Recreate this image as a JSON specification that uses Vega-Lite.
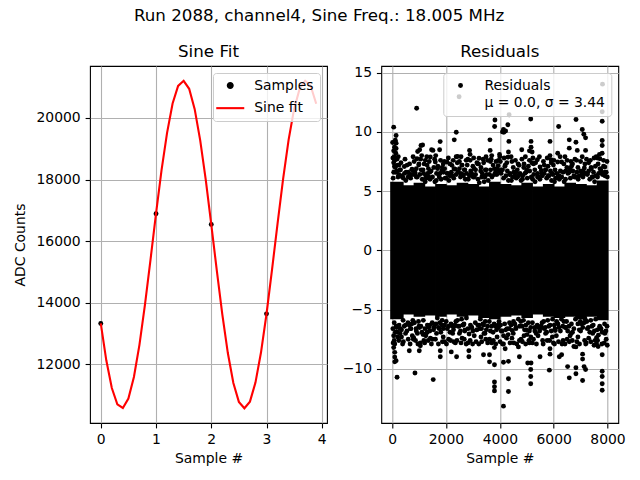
{
  "$schema": "https://vega.github.io/schema/vega-lite/v6.json",
  "background": "white",
  "padding": {"left": 12, "top": 8, "right": 5, "bottom": 5},
  "title": {"text": "Run 2088, channel4, Sine Freq.: 18.005 MHz", "anchor": "middle", "baseline": "alphabetic", "offset": 5},
  "config": {
    "view": {"stroke": "black", "strokeWidth": 1.1},
    "title": {"font": "DejaVu Sans", "fontSize": 16.7, "fontWeight": "normal", "color": "black"},
    "axis": {"labelFont": "DejaVu Sans", "labelFontSize": 13.9, "labelColor": "black", "titleFont": "DejaVu Sans", "titleFontSize": 13.9, "titleFontWeight": "normal", "titleColor": "black", "grid": true, "gridColor": "#b0b0b0", "gridWidth": 1.1, "tickColor": "black", "tickWidth": 1.1, "tickSize": 4.9, "labelPadding": 4.9, "domain": false, "labelFlush": false, "labelOverlap": false, "titlePadding": 5},
    "axisY": {"titlePadding": 9},
    "legend": {"labelFont": "DejaVu Sans", "labelFontSize": 13.9, "labelColor": "black", "fillColor": "rgba(255,255,255,0.8)", "strokeColor": "#cccccc", "cornerRadius": 3, "padding": 5.6, "orient": "top-right", "offset": 7, "symbolSize": 303, "symbolOffset": 4.7, "labelOffset": 17, "rowPadding": 7.6}
  },
  "spacing": 54.3,
  "bounds": "flush",
  "resolve": {"scale": {"color": "independent"}, "legend": {"color": "independent"}},
  "datasets": {
    "samples": [
      {"x": 0, "y": 13325}, {"x": 1, "y": 16890}, {"x": 2, "y": 16545}, {"x": 3, "y": 13640}
    ],
    "fit": [
      {"x": 0.0, "y": 13330}, {"x": 0.1, "y": 12132}, {"x": 0.2, "y": 11232}, {"x": 0.3, "y": 10703},
      {"x": 0.4, "y": 10586}, {"x": 0.5, "y": 10890}, {"x": 0.6, "y": 11592}, {"x": 0.7, "y": 12635},
      {"x": 0.8, "y": 13938}, {"x": 0.9, "y": 15395}, {"x": 1.0, "y": 16894}, {"x": 1.1, "y": 18309},
      {"x": 1.2, "y": 19517}, {"x": 1.3, "y": 20470}, {"x": 1.4, "y": 21041}, {"x": 1.5, "y": 21206},
      {"x": 1.6, "y": 20947}, {"x": 1.7, "y": 20286}, {"x": 1.8, "y": 19274}, {"x": 1.9, "y": 18001},
      {"x": 2.0, "y": 16548}, {"x": 2.1, "y": 15050}, {"x": 2.2, "y": 13620}, {"x": 2.3, "y": 12368},
      {"x": 2.4, "y": 11397}, {"x": 2.5, "y": 10783}, {"x": 2.6, "y": 10575}, {"x": 2.7, "y": 10790},
      {"x": 2.8, "y": 11409}, {"x": 2.9, "y": 12385}, {"x": 3.0, "y": 13636}, {"x": 3.1, "y": 15077},
      {"x": 3.2, "y": 16572}, {"x": 3.3, "y": 18017}, {"x": 3.4, "y": 19289}, {"x": 3.5, "y": 20294},
      {"x": 3.6, "y": 20949}, {"x": 3.7, "y": 21207}, {"x": 3.8, "y": 21039}, {"x": 3.9, "y": 20460}
    ],
    "core": [
      {"x0": -70, "x1": 430, "lo": -5.8, "hi": 5.8},
      {"x0": 400, "x1": 830, "lo": -5.4, "hi": 5.5},
      {"x0": 800, "x1": 1230, "lo": -5.6, "hi": 5.7},
      {"x0": 1200, "x1": 1630, "lo": -5.5, "hi": 5.4},
      {"x0": 1600, "x1": 2030, "lo": -5.6, "hi": 5.6},
      {"x0": 2000, "x1": 2430, "lo": -5.4, "hi": 5.5},
      {"x0": 2400, "x1": 2830, "lo": -5.6, "hi": 5.7},
      {"x0": 2800, "x1": 3230, "lo": -5.5, "hi": 5.6},
      {"x0": 3200, "x1": 3630, "lo": -5.7, "hi": 5.4},
      {"x0": 3600, "x1": 4030, "lo": -5.8, "hi": 5.8},
      {"x0": 4000, "x1": 4430, "lo": -5.6, "hi": 5.6},
      {"x0": 4400, "x1": 4830, "lo": -5.5, "hi": 5.5},
      {"x0": 4800, "x1": 5230, "lo": -5.7, "hi": 5.7},
      {"x0": 5200, "x1": 5630, "lo": -5.4, "hi": 5.4},
      {"x0": 5600, "x1": 6030, "lo": -5.6, "hi": 5.6},
      {"x0": 6000, "x1": 6430, "lo": -5.7, "hi": 5.4},
      {"x0": 6400, "x1": 6830, "lo": -5.6, "hi": 5.7},
      {"x0": 6800, "x1": 7230, "lo": -5.8, "hi": 5.6},
      {"x0": 7200, "x1": 7630, "lo": -5.6, "hi": 5.5},
      {"x0": 7600, "x1": 8040, "lo": -5.9, "hi": 5.9}
    ],
    "res": [
      {"x":60,"y":10.4},{"x":150,"y":9.7},{"x":120,"y":9.3},{"x":150,"y":9.05},{"x":90,"y":8.7},{"x":150,"y":8.6},{"x":60,"y":8.4},{"x":140,"y":8.2},{"x":80,"y":7.9},{"x":180,"y":7.7},{"x":60,"y":7.4},{"x":200,"y":7.2},{"x":120,"y":7.0},{"x":300,"y":6.8},{"x":60,"y":6.6},{"x":250,"y":6.4},{"x":380,"y":6.2},{"x":30,"y":7.8},{"x":20,"y":9.1},
      {"x":455,"y":7.08},{"x":520,"y":6.6},{"x":740,"y":6.8},{"x":700,"y":6.4},{"x":600,"y":6.2},{"x":650,"y":7.3},
      {"x":912,"y":12.0},{"x":1074,"y":8.85},{"x":1025,"y":8.5},{"x":950,"y":8.35},{"x":925,"y":7.74},{"x":1100,"y":8.0},{"x":1000,"y":7.3},{"x":1150,"y":6.8},{"x":850,"y":6.5},{"x":1134,"y":8.9},{"x":900,"y":6.2},
      {"x":1235,"y":7.6},{"x":1467,"y":8.49},{"x":1420,"y":7.88},{"x":1518,"y":8.44},{"x":1300,"y":7.2},{"x":1550,"y":7.0},{"x":1400,"y":6.6},{"x":1250,"y":6.3},{"x":1350,"y":6.9},
      {"x":1786,"y":9.18},{"x":1765,"y":8.49},{"x":1605,"y":7.46},{"x":1700,"y":7.1},{"x":1900,"y":7.3},{"x":1850,"y":6.7},{"x":1650,"y":6.5},{"x":1950,"y":6.9},{"x":1750,"y":6.2},
      {"x":2309,"y":9.33},{"x":2383,"y":9.97},{"x":2037,"y":7.46},{"x":2222,"y":7.18},{"x":2300,"y":6.9},{"x":2050,"y":6.5},{"x":2380,"y":7.9},{"x":2150,"y":6.3},
      {"x":2489,"y":12.97},{"x":2432,"y":7.93},{"x":2500,"y":7.5},{"x":2600,"y":7.2},{"x":2700,"y":6.8},{"x":2550,"y":6.5},{"x":2750,"y":7.6},{"x":2650,"y":6.3},
      {"x":2877,"y":8.44},{"x":2896,"y":8.1},{"x":2900,"y":7.6},{"x":3000,"y":7.1},{"x":3100,"y":6.8},{"x":3150,"y":7.4},{"x":2950,"y":6.5},{"x":3050,"y":6.2},
      {"x":3228,"y":7.78},{"x":3300,"y":7.0},{"x":3400,"y":7.4},{"x":3500,"y":6.8},{"x":3350,"y":6.5},{"x":3550,"y":7.6},{"x":3450,"y":6.2},
      {"x":3634,"y":9.33},{"x":3642,"y":8.44},{"x":3808,"y":10.45},{"x":3820,"y":11.0},{"x":3700,"y":8.0},{"x":3650,"y":7.5},{"x":3750,"y":7.2},{"x":3900,"y":6.9},{"x":3950,"y":7.6},{"x":3800,"y":6.4},
      {"x":4100,"y":10.0},{"x":4215,"y":10.08},{"x":4300,"y":10.6},{"x":4136,"y":10.2},{"x":4150,"y":9.97},{"x":4337,"y":9.2},{"x":4321,"y":8.3},{"x":4296,"y":7.87},{"x":4200,"y":7.2},{"x":4050,"y":6.8},{"x":4346,"y":11.45},{"x":4000,"y":7.9},{"x":4380,"y":6.5},
      {"x":4815,"y":8.5},{"x":4716,"y":7.18},{"x":4500,"y":7.0},{"x":4600,"y":6.6},{"x":4450,"y":7.5},{"x":4750,"y":6.5},{"x":4650,"y":6.2},
      {"x":5148,"y":11.09},{"x":5160,"y":9.2},{"x":5160,"y":8.7},{"x":5100,"y":8.4},{"x":5200,"y":8.3},{"x":4900,"y":7.3},{"x":5000,"y":6.8},{"x":5100,"y":7.6},{"x":4850,"y":6.3},
      {"x":5395,"y":7.65},{"x":5494,"y":7.04},{"x":5300,"y":6.8},{"x":5550,"y":6.5},{"x":5250,"y":7.3},{"x":5400,"y":6.2},
      {"x":5864,"y":9.2},{"x":5864,"y":8.0},{"x":5900,"y":7.65},{"x":5910,"y":7.4},{"x":5700,"y":6.8},{"x":5650,"y":7.2},{"x":5950,"y":6.5},{"x":5800,"y":6.3},
      {"x":6185,"y":10.45},{"x":6150,"y":8.2},{"x":6150,"y":7.46},{"x":6296,"y":7.46},{"x":6050,"y":6.8},{"x":6350,"y":6.6},{"x":6200,"y":6.3},
      {"x":6580,"y":9.33},{"x":6580,"y":8.63},{"x":6605,"y":6.9},{"x":6700,"y":7.3},{"x":6450,"y":6.7},{"x":6500,"y":7.6},{"x":6750,"y":6.3},
      {"x":6830,"y":11.05},{"x":7062,"y":10.2},{"x":7120,"y":9.8},{"x":7185,"y":9.5},{"x":6827,"y":9.13},{"x":6877,"y":8.44},{"x":7185,"y":8.44},{"x":7000,"y":7.5},{"x":6900,"y":7.0},{"x":7100,"y":6.7},{"x":6950,"y":6.3},
      {"x":7300,"y":7.4},{"x":7400,"y":6.9},{"x":7500,"y":7.8},{"x":7250,"y":6.5},{"x":7550,"y":7.1},{"x":7450,"y":6.2},
      {"x":7813,"y":14.03},{"x":7802,"y":11.7},{"x":7802,"y":10.9},{"x":7802,"y":9.27},{"x":7802,"y":8.85},{"x":7716,"y":7.74},{"x":7901,"y":7.04},{"x":7800,"y":8.2},{"x":7650,"y":7.3},{"x":7950,"y":6.6},{"x":7850,"y":7.6},{"x":7750,"y":6.8},{"x":7900,"y":6.3},
      {"x":185,"y":-10.7},{"x":100,"y":-9.4},{"x":100,"y":-9.0},{"x":100,"y":-8.6},{"x":150,"y":-9.3},{"x":60,"y":-8.2},{"x":100,"y":-7.9},{"x":80,"y":-7.6},{"x":60,"y":-7.2},{"x":200,"y":-6.9},{"x":300,"y":-6.6},{"x":150,"y":-6.4},{"x":350,"y":-7.3},
      {"x":640,"y":-8.46},{"x":500,"y":-7.0},{"x":700,"y":-6.6},{"x":600,"y":-7.5},{"x":450,"y":-6.4},{"x":750,"y":-7.2},
      {"x":850,"y":-10.34},{"x":1010,"y":-8.46},{"x":1050,"y":-7.8},{"x":1050,"y":-8.05},{"x":802,"y":-7.36},{"x":900,"y":-6.8},{"x":1150,"y":-7.1},{"x":1000,"y":-6.4},
      {"x":1528,"y":-10.9},{"x":1420,"y":-7.4},{"x":1500,"y":-7.5},{"x":1300,"y":-6.9},{"x":1250,"y":-7.2},{"x":1550,"y":-6.5},{"x":1400,"y":-6.3},
      {"x":1790,"y":-8.47},{"x":1790,"y":-8.97},{"x":1650,"y":-7.0},{"x":1900,"y":-7.3},{"x":1750,"y":-6.6},{"x":1950,"y":-7.7},{"x":1850,"y":-6.3},
      {"x":2198,"y":-8.56},{"x":2395,"y":-8.97},{"x":2100,"y":-7.5},{"x":2250,"y":-7.0},{"x":2050,"y":-6.6},{"x":2350,"y":-7.8},{"x":2300,"y":-6.4},
      {"x":2600,"y":-7.4},{"x":2700,"y":-6.8},{"x":2500,"y":-7.0},{"x":2750,"y":-7.9},{"x":2450,"y":-6.4},{"x":2650,"y":-6.3},
      {"x":2852,"y":-8.47},{"x":2852,"y":-8.97},{"x":2900,"y":-7.6},{"x":3050,"y":-7.2},{"x":3150,"y":-6.7},{"x":2950,"y":-6.5},
      {"x":3395,"y":-8.8},{"x":3300,"y":-7.3},{"x":3450,"y":-7.0},{"x":3550,"y":-7.8},{"x":3250,"y":-6.6},{"x":3400,"y":-6.3},
      {"x":3617,"y":-8.8},{"x":3617,"y":-9.4},{"x":3802,"y":-9.64},{"x":3802,"y":-11.1},{"x":3802,"y":-11.5},{"x":3802,"y":-11.85},{"x":3700,"y":-7.8},{"x":3900,"y":-7.3},{"x":3650,"y":-6.8},{"x":3950,"y":-6.5},{"x":3800,"y":-8.2},
      {"x":4136,"y":-13.14},{"x":4321,"y":-11.9},{"x":4321,"y":-10.83},{"x":4136,"y":-9.44},{"x":4321,"y":-9.36},{"x":4136,"y":-7.9},{"x":4250,"y":-7.4},{"x":4050,"y":-6.8},{"x":4350,"y":-6.6},{"x":4200,"y":-8.3},
      {"x":4728,"y":-8.97},{"x":4691,"y":-8.14},{"x":4728,"y":-7.6},{"x":4500,"y":-7.0},{"x":4600,"y":-6.6},{"x":4450,"y":-7.4},
      {"x":5037,"y":-9.5},{"x":5160,"y":-9.5},{"x":5148,"y":-10.05},{"x":5148,"y":-10.64},{"x":5148,"y":-11.25},{"x":4900,"y":-7.2},{"x":5000,"y":-6.7},{"x":5100,"y":-7.8},{"x":5150,"y":-7.3},
      {"x":5494,"y":-8.97},{"x":5420,"y":-7.2},{"x":5300,"y":-6.8},{"x":5550,"y":-6.5},{"x":5250,"y":-7.5},
      {"x":5840,"y":-10.1},{"x":5864,"y":-8.75},{"x":5864,"y":-8.3},{"x":5850,"y":-7.6},{"x":5700,"y":-7.0},{"x":5650,"y":-6.6},{"x":5950,"y":-7.3},
      {"x":6210,"y":-8.97},{"x":6296,"y":-8.8},{"x":6100,"y":-7.2},{"x":6350,"y":-7.6},{"x":6050,"y":-6.6},{"x":6250,"y":-6.8},
      {"x":6518,"y":-9.8},{"x":6580,"y":-10.75},{"x":6500,"y":-7.5},{"x":6650,"y":-7.0},{"x":6750,"y":-8.1},{"x":6450,"y":-6.5},
      {"x":6827,"y":-9.9},{"x":6827,"y":-10.4},{"x":7074,"y":-10.97},{"x":7130,"y":-9.8},{"x":7185,"y":-10.05},{"x":7074,"y":-9.17},{"x":7074,"y":-8.75},{"x":6827,"y":-8.14},{"x":6900,"y":-7.3},{"x":7000,"y":-6.8},{"x":7150,"y":-7.6},
      {"x":7300,"y":-7.4},{"x":7450,"y":-7.0},{"x":7593,"y":-7.9},{"x":7593,"y":-7.36},{"x":7250,"y":-6.6},{"x":7500,"y":-8.0},
      {"x":7802,"y":-10.2},{"x":7802,"y":-10.64},{"x":7802,"y":-11.25},{"x":7802,"y":-11.8},{"x":7802,"y":-8.8},{"x":7790,"y":-7.9},{"x":7900,"y":-7.0},{"x":7700,"y":-6.6},{"x":7950,"y":-7.5},{"x":7650,"y":-8.1},
      {"x":40,"y":6.1},{"x":130,"y":6.6},{"x":220,"y":6.2},{"x":310,"y":6.8},{"x":370,"y":6.3},{"x":90,"y":7.1},{"x":260,"y":7.2},{"x":180,"y":6.7},
      {"x":420,"y":6.1},{"x":510,"y":5.9},{"x":600,"y":6.6},{"x":690,"y":6.1},{"x":780,"y":6.4},{"x":460,"y":6.5},{"x":640,"y":6.3},{"x":740,"y":6.85},
      {"x":850,"y":6.6},{"x":940,"y":6.2},{"x":1030,"y":6.4},{"x":1120,"y":6.0},{"x":900,"y":6.9},{"x":1080,"y":6.8},{"x":990,"y":7.2},{"x":1170,"y":6.5},
      {"x":1230,"y":5.8},{"x":1320,"y":6.5},{"x":1410,"y":6.0},{"x":1500,"y":6.2},{"x":1590,"y":5.8},{"x":1360,"y":6.2},{"x":1450,"y":6.7},{"x":1270,"y":6.1},
      {"x":1640,"y":5.9},{"x":1730,"y":6.4},{"x":1820,"y":6.0},{"x":1910,"y":6.6},{"x":1970,"y":6.1},{"x":1690,"y":6.9},{"x":1860,"y":7.0},{"x":1780,"y":6.5},
      {"x":2020,"y":6.1},{"x":2110,"y":5.9},{"x":2200,"y":6.6},{"x":2290,"y":6.1},{"x":2380,"y":6.4},{"x":2060,"y":6.5},{"x":2240,"y":6.3},{"x":2340,"y":6.85},
      {"x":2450,"y":6.6},{"x":2540,"y":6.2},{"x":2630,"y":6.4},{"x":2720,"y":6.0},{"x":2500,"y":6.9},{"x":2680,"y":6.8},{"x":2590,"y":7.2},{"x":2770,"y":6.5},
      {"x":2830,"y":6.0},{"x":2920,"y":6.7},{"x":3010,"y":6.2},{"x":3100,"y":6.4},{"x":3190,"y":6.0},{"x":2960,"y":6.4},{"x":3050,"y":6.9},{"x":2870,"y":6.3},
      {"x":3240,"y":5.7},{"x":3330,"y":6.2},{"x":3420,"y":5.8},{"x":3510,"y":6.4},{"x":3570,"y":5.9},{"x":3290,"y":6.7},{"x":3460,"y":6.8},{"x":3380,"y":6.3},
      {"x":3620,"y":6.4},{"x":3710,"y":6.2},{"x":3800,"y":6.9},{"x":3890,"y":6.4},{"x":3980,"y":6.7},{"x":3660,"y":6.8},{"x":3840,"y":6.6},{"x":3940,"y":7.15},
      {"x":4050,"y":6.5},{"x":4140,"y":6.1},{"x":4230,"y":6.3},{"x":4320,"y":5.9},{"x":4100,"y":6.8},{"x":4280,"y":6.7},{"x":4190,"y":7.1},{"x":4370,"y":6.4},
      {"x":4430,"y":5.9},{"x":4520,"y":6.6},{"x":4610,"y":6.1},{"x":4700,"y":6.3},{"x":4790,"y":5.9},{"x":4560,"y":6.3},{"x":4650,"y":6.8},{"x":4470,"y":6.2},
      {"x":4840,"y":6.0},{"x":4930,"y":6.5},{"x":5020,"y":6.1},{"x":5110,"y":6.7},{"x":5170,"y":6.2},{"x":4890,"y":7.0},{"x":5060,"y":7.1},{"x":4980,"y":6.6},
      {"x":5220,"y":6.0},{"x":5310,"y":5.8},{"x":5400,"y":6.5},{"x":5490,"y":6.0},{"x":5580,"y":6.3},{"x":5260,"y":6.4},{"x":5440,"y":6.2},{"x":5540,"y":6.75},
      {"x":5650,"y":6.5},{"x":5740,"y":6.1},{"x":5830,"y":6.3},{"x":5920,"y":5.9},{"x":5700,"y":6.8},{"x":5880,"y":6.7},{"x":5790,"y":7.1},{"x":5970,"y":6.4},
      {"x":6030,"y":5.8},{"x":6120,"y":6.5},{"x":6210,"y":6.0},{"x":6300,"y":6.2},{"x":6390,"y":5.8},{"x":6160,"y":6.2},{"x":6250,"y":6.7},{"x":6070,"y":6.1},
      {"x":6440,"y":6.0},{"x":6530,"y":6.5},{"x":6620,"y":6.1},{"x":6710,"y":6.7},{"x":6770,"y":6.2},{"x":6490,"y":7.0},{"x":6660,"y":7.1},{"x":6580,"y":6.6},
      {"x":6820,"y":6.2},{"x":6910,"y":6.0},{"x":7000,"y":6.7},{"x":7090,"y":6.2},{"x":7180,"y":6.5},{"x":6860,"y":6.6},{"x":7040,"y":6.4},{"x":7140,"y":6.95},
      {"x":7250,"y":6.4},{"x":7340,"y":6.0},{"x":7430,"y":6.2},{"x":7520,"y":5.8},{"x":7300,"y":6.7},{"x":7480,"y":6.6},{"x":7390,"y":7.0},{"x":7570,"y":6.3},
      {"x":7630,"y":6.2},{"x":7720,"y":6.9},{"x":7810,"y":6.4},{"x":7900,"y":6.6},{"x":7990,"y":6.2},{"x":7760,"y":6.6},{"x":7850,"y":7.1},{"x":7670,"y":6.5},
      {"x":350,"y":-6.7},{"x":260,"y":-6.3},{"x":170,"y":-6.5},{"x":80,"y":-6.1},{"x":300,"y":-7.0},{"x":120,"y":-6.9},{"x":210,"y":-7.3},{"x":30,"y":-6.6},
      {"x":770,"y":-5.9},{"x":680,"y":-6.6},{"x":590,"y":-6.1},{"x":500,"y":-6.3},{"x":410,"y":-5.9},{"x":640,"y":-6.3},{"x":550,"y":-6.8},{"x":730,"y":-6.2},
      {"x":1160,"y":-5.9},{"x":1070,"y":-6.4},{"x":980,"y":-6.0},{"x":890,"y":-6.6},{"x":830,"y":-6.1},{"x":1110,"y":-6.9},{"x":940,"y":-7.0},{"x":1020,"y":-6.5},
      {"x":1580,"y":-6.3},{"x":1490,"y":-6.1},{"x":1400,"y":-6.8},{"x":1310,"y":-6.3},{"x":1220,"y":-6.6},{"x":1540,"y":-6.7},{"x":1360,"y":-6.5},{"x":1260,"y":-7.05},
      {"x":1950,"y":-6.3},{"x":1860,"y":-5.9},{"x":1770,"y":-6.1},{"x":1680,"y":-5.7},{"x":1900,"y":-6.6},{"x":1720,"y":-6.5},{"x":1810,"y":-6.9},{"x":1630,"y":-6.2},
      {"x":2370,"y":-6.0},{"x":2280,"y":-6.7},{"x":2190,"y":-6.2},{"x":2100,"y":-6.4},{"x":2010,"y":-6.0},{"x":2240,"y":-6.4},{"x":2150,"y":-6.9},{"x":2330,"y":-6.3},
      {"x":2760,"y":-5.7},{"x":2670,"y":-6.2},{"x":2580,"y":-5.8},{"x":2490,"y":-6.4},{"x":2430,"y":-5.9},{"x":2710,"y":-6.7},{"x":2540,"y":-6.8},{"x":2620,"y":-6.3},
      {"x":3180,"y":-6.3},{"x":3090,"y":-6.1},{"x":3000,"y":-6.8},{"x":2910,"y":-6.3},{"x":2820,"y":-6.6},{"x":3140,"y":-6.7},{"x":2960,"y":-6.5},{"x":2860,"y":-7.05},
      {"x":3550,"y":-6.4},{"x":3460,"y":-6.0},{"x":3370,"y":-6.2},{"x":3280,"y":-5.8},{"x":3500,"y":-6.7},{"x":3320,"y":-6.6},{"x":3410,"y":-7.0},{"x":3230,"y":-6.3},
      {"x":3970,"y":-6.0},{"x":3880,"y":-6.7},{"x":3790,"y":-6.2},{"x":3700,"y":-6.4},{"x":3610,"y":-6.0},{"x":3840,"y":-6.4},{"x":3750,"y":-6.9},{"x":3930,"y":-6.3},
      {"x":4360,"y":-6.1},{"x":4270,"y":-6.6},{"x":4180,"y":-6.2},{"x":4090,"y":-6.8},{"x":4030,"y":-6.3},{"x":4310,"y":-7.1},{"x":4140,"y":-7.2},{"x":4220,"y":-6.7},
      {"x":4780,"y":-6.0},{"x":4690,"y":-5.8},{"x":4600,"y":-6.5},{"x":4510,"y":-6.0},{"x":4420,"y":-6.3},{"x":4740,"y":-6.4},{"x":4560,"y":-6.2},{"x":4460,"y":-6.75},
      {"x":5150,"y":-6.5},{"x":5060,"y":-6.1},{"x":4970,"y":-6.3},{"x":4880,"y":-5.9},{"x":5100,"y":-6.8},{"x":4920,"y":-6.7},{"x":5010,"y":-7.1},{"x":4830,"y":-6.4},
      {"x":5570,"y":-6.1},{"x":5480,"y":-6.8},{"x":5390,"y":-6.3},{"x":5300,"y":-6.5},{"x":5210,"y":-6.1},{"x":5440,"y":-6.5},{"x":5350,"y":-7.0},{"x":5530,"y":-6.4},
      {"x":5960,"y":-5.8},{"x":5870,"y":-6.3},{"x":5780,"y":-5.9},{"x":5690,"y":-6.5},{"x":5630,"y":-6.0},{"x":5910,"y":-6.8},{"x":5740,"y":-6.9},{"x":5820,"y":-6.4},
      {"x":6380,"y":-6.0},{"x":6290,"y":-5.8},{"x":6200,"y":-6.5},{"x":6110,"y":-6.0},{"x":6020,"y":-6.3},{"x":6340,"y":-6.4},{"x":6160,"y":-6.2},{"x":6060,"y":-6.75},
      {"x":6750,"y":-6.6},{"x":6660,"y":-6.2},{"x":6570,"y":-6.4},{"x":6480,"y":-6.0},{"x":6700,"y":-6.9},{"x":6520,"y":-6.8},{"x":6610,"y":-7.2},{"x":6430,"y":-6.5},
      {"x":7170,"y":-5.8},{"x":7080,"y":-6.5},{"x":6990,"y":-6.0},{"x":6900,"y":-6.2},{"x":6810,"y":-5.8},{"x":7040,"y":-6.2},{"x":6950,"y":-6.7},{"x":7130,"y":-6.1},
      {"x":7560,"y":-5.8},{"x":7470,"y":-6.3},{"x":7380,"y":-5.9},{"x":7290,"y":-6.5},{"x":7230,"y":-6.0},{"x":7510,"y":-6.8},{"x":7340,"y":-6.9},{"x":7420,"y":-6.4},
      {"x":7980,"y":-6.4},{"x":7890,"y":-6.2},{"x":7800,"y":-6.9},{"x":7710,"y":-6.4},{"x":7620,"y":-6.7},{"x":7940,"y":-6.8},{"x":7760,"y":-6.6},{"x":7660,"y":-7.15},
      {"x":100,"y":7.6},{"x":230,"y":7.9},{"x":330,"y":7.4},{"x":480,"y":7.7},{"x":560,"y":7.2},{"x":780,"y":7.9},{"x":820,"y":7.5},{"x":1060,"y":7.7},{"x":1190,"y":7.3},{"x":1290,"y":7.9},{"x":1380,"y":7.5},{"x":1580,"y":7.7},
      {"x":1620,"y":8.0},{"x":1800,"y":7.6},{"x":1940,"y":7.5},{"x":2090,"y":7.8},{"x":2150,"y":7.3},{"x":2270,"y":7.6},{"x":2420,"y":7.4},{"x":2560,"y":7.9},{"x":2790,"y":7.2},{"x":2810,"y":7.7},{"x":3030,"y":7.8},{"x":3180,"y":7.3},
      {"x":3210,"y":7.3},{"x":3380,"y":7.7},{"x":3490,"y":7.9},{"x":3680,"y":7.7},{"x":3860,"y":7.5},{"x":3990,"y":8.1},{"x":4020,"y":7.5},{"x":4160,"y":7.8},{"x":4260,"y":7.4},{"x":4420,"y":7.9},{"x":4580,"y":7.6},{"x":4680,"y":7.3},
      {"x":4820,"y":7.7},{"x":4950,"y":7.9},{"x":5190,"y":7.4},{"x":5230,"y":7.8},{"x":5330,"y":7.4},{"x":5470,"y":7.9},{"x":5620,"y":7.5},{"x":5760,"y":7.8},{"x":5990,"y":7.2},{"x":6010,"y":7.6},{"x":6240,"y":7.9},{"x":6380,"y":7.3},
      {"x":6420,"y":7.9},{"x":6640,"y":7.5},{"x":6790,"y":7.7},{"x":6850,"y":7.6},{"x":7060,"y":7.9},{"x":7160,"y":7.3},{"x":7220,"y":7.7},{"x":7360,"y":7.6},{"x":7580,"y":7.9},{"x":7620,"y":7.8},{"x":7700,"y":8.1},{"x":7980,"y":7.5},
      {"x":40,"y":-7.8},{"x":250,"y":-7.6},{"x":390,"y":-7.9},{"x":420,"y":-7.7},{"x":670,"y":-7.9},{"x":790,"y":-7.5},{"x":870,"y":-7.6},{"x":960,"y":-7.9},{"x":1180,"y":-7.6},{"x":1210,"y":-7.8},{"x":1340,"y":-7.6},{"x":1460,"y":-7.9},
      {"x":1610,"y":-7.5},{"x":1720,"y":-7.9},{"x":1870,"y":-7.7},{"x":2020,"y":-7.9},{"x":2170,"y":-7.6},{"x":2290,"y":-7.7},{"x":2410,"y":-7.6},{"x":2560,"y":-7.8},{"x":2680,"y":-7.5},{"x":2820,"y":-7.8},{"x":2990,"y":-7.9},{"x":3120,"y":-7.7},
      {"x":3220,"y":-7.9},{"x":3330,"y":-7.7},{"x":3480,"y":-7.5},{"x":3620,"y":-7.5},{"x":3760,"y":-7.6},{"x":3850,"y":-7.9},{"x":4010,"y":-7.7},{"x":4100,"y":-7.9},{"x":4380,"y":-7.8},{"x":4520,"y":-7.8},{"x":4630,"y":-7.9},{"x":4790,"y":-7.5},
      {"x":4840,"y":-7.7},{"x":4960,"y":-7.9},{"x":5080,"y":-7.6},{"x":5210,"y":-7.8},{"x":5360,"y":-7.9},{"x":5590,"y":-7.6},{"x":5610,"y":-7.9},{"x":5760,"y":-7.6},{"x":5990,"y":-7.8},{"x":6030,"y":-7.9},{"x":6180,"y":-7.7},{"x":6310,"y":-7.9},
      {"x":6420,"y":-7.9},{"x":6580,"y":-7.7},{"x":6690,"y":-7.6},{"x":6860,"y":-7.7},{"x":6960,"y":-7.9},{"x":7190,"y":-7.9},{"x":7210,"y":-7.8},{"x":7380,"y":-7.7},{"x":7540,"y":-7.6},{"x":7630,"y":-7.6},{"x":7880,"y":-7.8},{"x":7990,"y":-8.0}
    ]
  },
  "hconcat": [
    {
      "width": 237,
      "height": 357,
      "title": {"text": "Sine Fit", "baseline": "alphabetic", "offset": -7.7},
      "layer": [
        {
          "data": {"name": "samples"},
          "mark": {"type": "point", "filled": true, "size": 24, "opacity": 1},
          "encoding": {
            "x": {"field": "x", "type": "quantitative", "title": "Sample #", "scale": {"domain": [-0.195, 4.095], "nice": false, "zero": false}, "axis": {"values": [0, 1, 2, 3, 4], "format": "d"}},
            "y": {"field": "y", "type": "quantitative", "title": "ADC Counts", "scale": {"domain": [10097, 21687], "nice": false, "zero": false}, "axis": {"values": [12000, 14000, 16000, 18000, 20000], "format": "d"}},
            "color": {
              "datum": "Samples",
              "scale": {"domain": ["Samples", "Sine fit"], "range": ["black", "red"]},
              "legend": {
                "title": null,
                "zindex": 1,
                "encoding": {
                  "symbols": {
                    "shape": {"value": {"expr": "datum.value === 'Sine fit' ? 'stroke' : 'circle'"}},
                    "size": {"value": {"expr": "datum.value === 'Sine fit' ? 784 : 24"}},
                    "fill": {"value": {"expr": "datum.value === 'Sine fit' ? 'transparent' : 'black'"}},
                    "stroke": {"value": {"expr": "datum.value === 'Sine fit' ? 'red' : 'transparent'"}},
                    "strokeWidth": {"value": 2.1},
                    "opacity": {"value": 1}
                  }
                }
              }
            }
          }
        },
        {
          "data": {"name": "fit"},
          "mark": {"type": "line", "strokeWidth": 2.1},
          "encoding": {
            "x": {"field": "x", "type": "quantitative", "title": "Sample #"},
            "y": {"field": "y", "type": "quantitative", "title": "ADC Counts"},
            "color": {"datum": "Sine fit"}
          }
        }
      ]
    },
    {
      "width": 237,
      "height": 357,
      "title": {"text": "Residuals", "baseline": "alphabetic", "offset": -7.7},
      "layer": [
        {
          "data": {"name": "core"},
          "mark": {"type": "rect", "color": "black"},
          "encoding": {
            "x": {"field": "x0", "type": "quantitative", "title": "Sample #", "scale": {"domain": [-400, 8400], "nice": false, "zero": false}, "axis": {"values": [0, 2000, 4000, 6000, 8000], "format": "d"}},
            "x2": {"field": "x1"},
            "y": {"field": "lo", "type": "quantitative", "title": null, "scale": {"domain": [-14.56, 15.56], "nice": false, "zero": false}, "axis": {"values": [-10, -5, 0, 5, 10, 15], "labelExpr": "replace(datum.label, '-', '−')"}},
            "y2": {"field": "hi"}
          }
        },
        {
          "data": {"name": "res"},
          "mark": {"type": "point", "filled": true, "size": 24, "opacity": 1},
          "encoding": {
            "x": {"field": "x", "type": "quantitative", "title": "Sample #"},
            "y": {"field": "y", "type": "quantitative", "title": null},
            "color": {
              "datum": "Residuals",
              "scale": {"domain": ["Residuals"], "range": ["black"]},
              "legend": {
                "title": null,
                "zindex": 1,
                "labelExpr": "['Residuals', 'μ = 0.0, σ = 3.44']",
                "encoding": {
                  "symbols": {
                    "shape": {"value": "circle"},
                    "size": {"value": 24},
                    "fill": {"value": "black"},
                    "stroke": {"value": "transparent"},
                    "opacity": {"value": 1}
                  },
                  "labels": {"lineHeight": {"value": 17.4}}
                }
              }
            }
          }
        }
      ]
    }
  ]
}
